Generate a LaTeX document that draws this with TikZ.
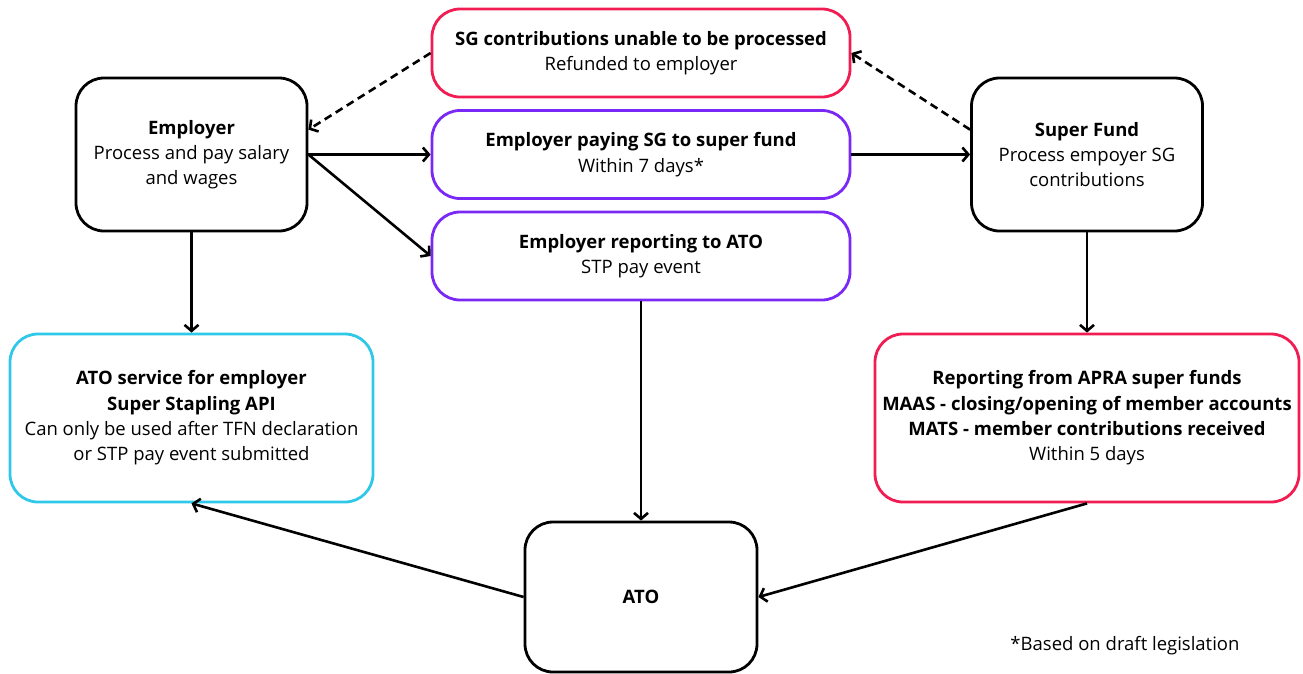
\documentclass[tikz,border=0pt]{standalone}
\usepackage{fontspec}
\setmainfont{Open Sans}
\usetikzlibrary{arrows.meta}
\definecolor{sgred}{RGB}{240,28,82}
\definecolor{paypurple}{RGB}{122,40,245}
\definecolor{atocyan}{RGB}{48,200,232}

\begin{document}
\begin{tikzpicture}[x=1pt,y=-1pt,
    box/.style={draw, line width=2.8pt, rounded corners=28pt, align=center,
      font=\fontsize{18.5}{25.3}\selectfont, inner sep=0pt},
    party/.style={box, minimum width=231pt, minimum height=153pt},
    flow/.style={box, minimum width=418pt, minimum height=88pt},
    link/.style={line width=2.6pt, -{Straight Barb[length=6pt,width=14pt]}},
    back/.style={link, dash pattern=on 8pt off 5pt}]
    \useasboundingbox (0,0) rectangle (1303,673);
    \node[party] (emp) at (191.5,154.5) {\textbf{Employer}\\Process and pay salary\\and wages};
    \node[party] (sf) at (1087,154.5) {\textbf{Super Fund}\\Process empoyer SG\\contributions};
    \node[flow, sgred] (sgc) at (641,53) {\color{black}\textbf{SG contributions unable to be processed}\\\color{black}Refunded to employer};
    \node[flow, paypurple] (pay) at (641,154.5) {\color{black}\textbf{Employer paying SG to super fund}\\\color{black}Within 7 days*};
    \node[flow, paypurple] (rep) at (641,256) {\color{black}\textbf{Employer reporting to ATO}\\\color{black}STP pay event};
    \node[box, atocyan, minimum width=363pt, minimum height=168pt] (atos) at (191.5,418)
      {\color{black}\textbf{ATO service for employer}\\\color{black}\textbf{Super Stapling API}\\\color{black}Can only be used after TFN declaration\\\color{black}or STP pay event submitted};
    \node[box, sgred, minimum width=424pt, minimum height=168pt] (apra) at (1087,418)
      {\color{black}\textbf{Reporting from APRA super funds}\\\color{black}\textbf{MAAS - closing/opening of member accounts}\\\color{black}\textbf{MATS - member contributions received}\\\color{black}Within 5 days};
    \node[box, minimum width=232pt, minimum height=150pt] (ato) at (641,597) {\textbf{ATO}};
    \node[anchor=east, font=\fontsize{18.5}{25}\selectfont] (note) at (1243,646) {*Based on draft legislation};
    % payments and reporting
    \draw[link] (emp.east) -- (pay.west);
    \draw[link] (emp.east) -- (rep.west);
    \draw[link] (pay.east) -- (sf.west);
    \draw[back] (sgc.west) -- (emp.12);
    \draw[back] (sf.168) -- (sgc.east);
    \draw[link] (emp.south) -- (atos.north);
    \draw[link] (sf.south) -- (apra.north);
    \draw[link] (rep.south) -- (ato.north);
    \draw[link] (apra.south) -- (ato.east);
    \draw[link] (ato.west) -- (atos.south);
  \end{tikzpicture}
\end{document}
